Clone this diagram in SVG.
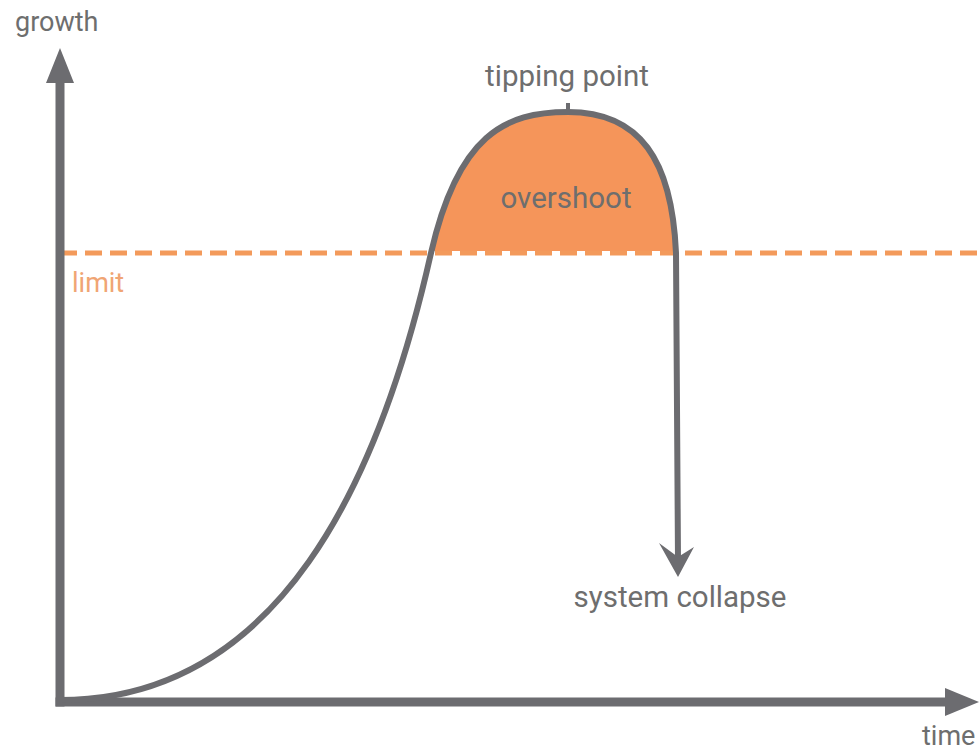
<svg xmlns="http://www.w3.org/2000/svg" width="980" height="752" viewBox="0 0 980 752">
<style>
.ax{stroke:#6c6c70;stroke-width:9;fill:none;stroke-linecap:square}
.head{fill:#6c6c70}
.curve{stroke:#6c6c70;stroke-width:6;fill:none;stroke-linejoin:round}
.lbl{font-family:Roboto,"Liberation Sans",sans-serif;fill:#6e6e6e;font-size:27px}
.big{font-size:29.5px}
.lim{stroke:#f39a5b;stroke-width:5;stroke-dasharray:17 8;fill:none}
</style>
<rect width="980" height="752" fill="#fff"/>
<g id="overshoot">
<path d="M431,251 C458,135 505,112 568,112 C640,112 672,160 676,251 Z" fill="#f5955a"/>
<text class="lbl big" x="566" y="208" text-anchor="middle">overshoot</text>
</g>
<g id="limit">
<line class="lim" x1="60" y1="253" x2="980" y2="253"/>
<text class="lbl" x="72" y="292" style="fill:#f0a574" font-size="26">limit</text>
</g>
<g id="axes">
<line class="ax" x1="60" y1="80" x2="60" y2="702"/>
<line class="ax" x1="60" y1="702" x2="948" y2="702"/>
<polygon class="head" points="60,48 46,83 74,83"/>
<polygon class="head" points="979,702 945,688 945,716"/>
</g>
<g id="connectors">
<path class="curve" d="M60,700 C280,700 380,480 431,253 C458,135 505,112 568,112 C640,112 672,160 676,253 L678,560"/>
<line x1="568" y1="103" x2="568" y2="112" stroke="#6c6c70" stroke-width="4"/>
<path class="head" d="M678,577 L659,543 L678,557 L694,547 Z"/>
</g>
<g id="labels">
<text class="lbl" x="15" y="31">growth</text>
<text class="lbl big" x="567" y="86" text-anchor="middle">tipping point</text>
<text class="lbl big" x="680" y="607" text-anchor="middle">system collapse</text>
<text class="lbl" x="922" y="745">time</text>
</g>
</svg>
